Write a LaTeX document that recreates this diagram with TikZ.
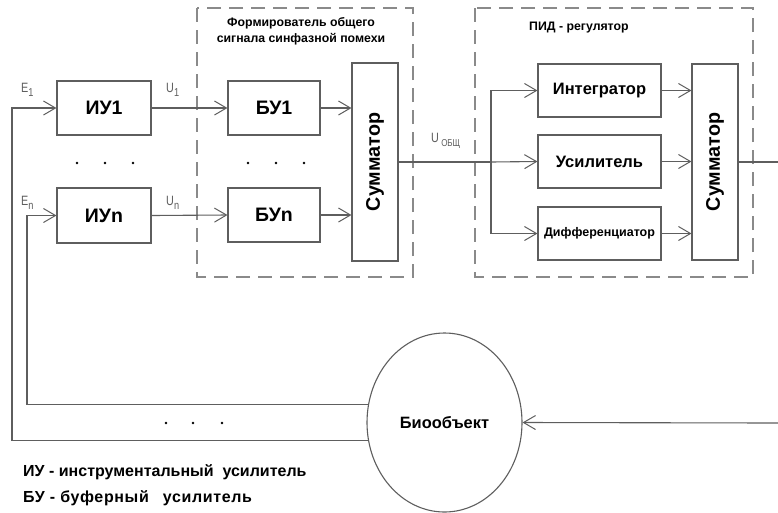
\documentclass[tikz,border=0pt]{standalone}
\usepackage{fontspec}
\setmainfont{Liberation Sans}
\newfontfamily\nb{Liberation Sans}
\newfontfamily\nbsp[LetterSpace=4]{Liberation Sans}
\newfontfamily\thinf[FakeStretch=0.8]{Liberation Sans}
\usetikzlibrary{arrows.meta,shapes.geometric,calc}
\definecolor{ln}{HTML}{5E5E5E}
\definecolor{dsh}{HTML}{8A8A8A}
\tikzset{
  blk/.style={draw=ln,line width=1.1pt,rectangle,inner sep=0pt,font=\nb\bfseries\fontsize{19.5}{20}\selectfont},
  con/.style={draw=ln,line width=1.1pt},
  arr/.style={con,-{Straight Barb[length=12pt,width=14pt,line width=1pt]}},
  grp/.style={draw=dsh,line width=1.2pt,dash pattern=on 14pt off 8pt},
  lbl/.style={inner sep=0pt,text=ln,font=\thinf\fontsize{13.5}{14}\selectfont},
  dot/.style={fill=black,circle,inner sep=0pt,minimum size=2.6pt},
  vtxt/.style={rotate=90,inner sep=0pt,font=\nb\bfseries\fontsize{19.7}{20}\selectfont},
  ttl/.style={inner sep=0pt,font=\nb\bfseries\fontsize{12.3}{16}\selectfont},
  legtxt/.style={anchor=west,inner sep=0pt,font=\nb\bfseries\fontsize{16}{17}\selectfont},
}
\begin{document}
\begin{tikzpicture}[x=1pt,y=-1pt]
\useasboundingbox[fill=white] (0,0) rectangle (778,512);
% group boxes
\draw[grp] (197,8) rectangle (413,277);
\draw[grp] (475,8) rectangle (753,277);
\node[ttl,align=center] (t1) at (301,31.5) {Формирователь общего\\сигнала синфазной помехи};
\node[ttl,anchor=west] (t2) at (529,28) {ПИД - регулятор};
% blocks
\node[blk,minimum width=94pt,minimum height=54pt] (iu1) at (104,108) {ИУ1};
\node[blk,minimum width=94pt,minimum height=55pt] (iun) at (104,215.5) {ИУn};
\node[blk,minimum width=92pt,minimum height=54pt] (bu1) at (274,108) {БУ1};
\node[blk,minimum width=92pt,minimum height=54pt] (bun) at (274,215) {БУn};
\node[blk,minimum width=46pt,minimum height=198pt] (sum1) at (375,162) {};
\node[vtxt] at (sum1.center) {Сумматор};
\node[blk,minimum width=123pt,minimum height=53pt,font=\nb\bfseries\fontsize{16.5}{17}\selectfont] (integ) at (599.5,90.5) {Интегратор};
\node[blk,minimum width=123pt,minimum height=53pt,font=\nb\bfseries\fontsize{16.5}{17}\selectfont] (usil) at (599.5,161.5) {Усилитель};
\node[blk,minimum width=123pt,minimum height=53pt,font=\nb\bfseries\fontsize{12.5}{13}\selectfont] (diff) at (599.5,233.5) {Дифференциатор};
\node[blk,minimum width=46pt,minimum height=196pt] (sum2) at (715,162) {};
\node[vtxt] at (sum2.center) {Сумматор};
\node[draw=ln,line width=1.1pt,ellipse,inner sep=0pt,minimum width=155pt,minimum height=179pt,font=\nb\bfseries\fontsize{16.4}{17}\selectfont] (bio) at (444.5,422.5) {Биообъект};
% coordinates
\coordinate (sp) at (491,162);
\coordinate (outR) at (778,162);
\coordinate (inR) at (778,423);
% connectors
\draw[arr] (iu1.east) -- (bu1.west);
\draw[arr] (iun.east) -- (bun.west);
\draw[arr] (bu1.east) -- (bu1.east -| sum1.west);
\draw[arr] (bun.east) -- (bun.east -| sum1.west);
\draw[con] (sum1.east) -- (sp);
\draw[arr] (sp) -- (usil.west);
\draw[arr] (sp) |- (integ.west);
\draw[arr] (sp) |- (diff.west);
\draw[arr] (integ.east) -- (integ.east -| sum2.west);
\draw[arr] (usil.east) -- (usil.east -| sum2.west);
\draw[arr] (diff.east) -- (diff.east -| sum2.west);
\draw[con] (sum2.east) -- (outR);
\draw[arr] (inR) -- (bio.east);
\draw[arr] (bio.193.7) -| (12,108) -- (iu1.west);
\draw[arr] (bio.167) -| (27,215.5) -- (iun.west);
% labels
\node[lbl,anchor=south west] (e1) at (21,97) {E\raisebox{-4pt}{\fontsize{11.5}{12}\selectfont 1}};
\node[lbl,anchor=south west] (en) at (21,210) {E\raisebox{-4pt}{\fontsize{11.5}{12}\selectfont n}};
\node[lbl,anchor=south west] (u1) at (166,97) {U\raisebox{-4pt}{\fontsize{11.5}{12}\selectfont 1}};
\node[lbl,anchor=south west] (un) at (166,210) {U\raisebox{-4pt}{\fontsize{11.5}{12}\selectfont n}};
\node[lbl,anchor=south west] (uo) at (431,149) {U\,\raisebox{-4pt}{\fontsize{10}{10}\selectfont ОБЩ}};
% dots
\foreach \x/\y [count=\i] in {77/163,105/163,133/163,248/163,276/163,304/163,166/423,193/423,222/423}
  \node[dot] (d\i) at (\x,\y) {};
% legend
\node[legtxt] (leg1) at (23,472) {ИУ - инструментальный\ \ усилитель};
\node[legtxt,font=\nbsp\bfseries\fontsize{16}{17}\selectfont] (leg2) at (23,498) {БУ - буферный\hspace{14pt}усилитель};
\end{tikzpicture}
\end{document}
